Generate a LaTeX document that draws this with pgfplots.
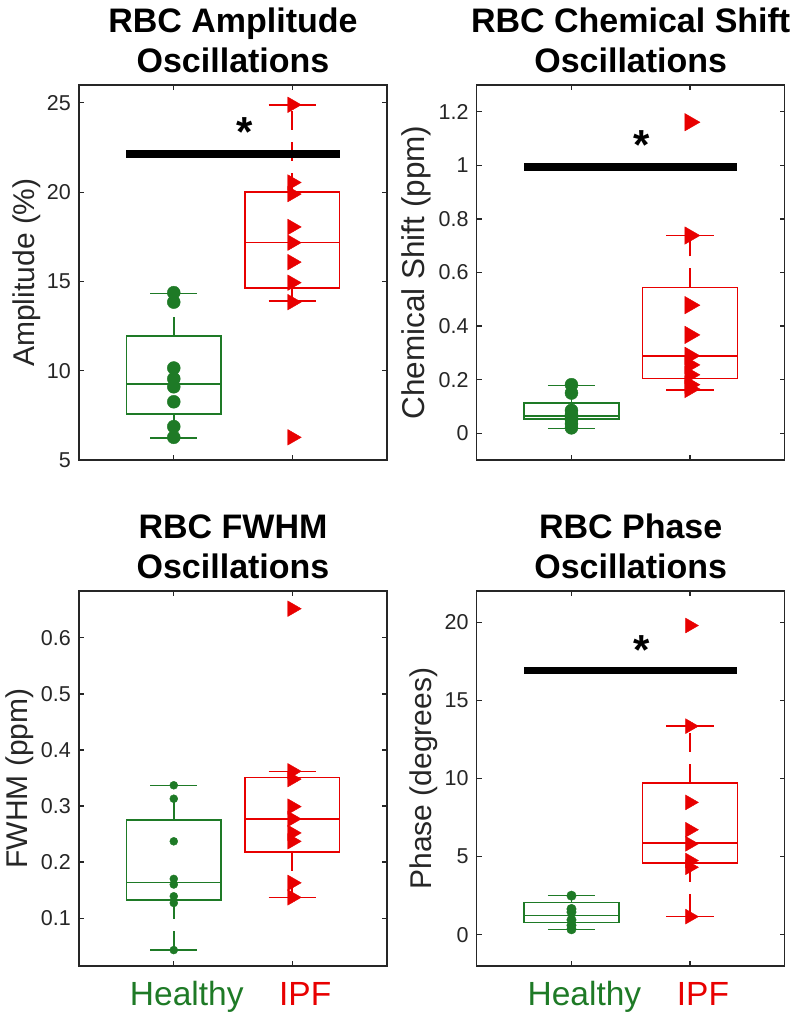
\documentclass[border=0pt]{standalone}
\usepackage{fontspec}
\setmainfont{Liberation Sans}
\usepackage{pgfplots}
\pgfplotsset{compat=1.18}
\definecolor{hg}{RGB}{30,122,38}
\definecolor{ipf}{RGB}{232,0,0}
\definecolor{axc}{RGB}{38,38,38}

% box drawing helpers: {lw}{q1}{median}{q3}{uw}
\newcommand{\bpH}[5]{%
  \addplot[hg, line width=1.5pt, line cap=rect] coordinates {(0.6,#2) (1.4,#2) (1.4,#4) (0.6,#4) (0.6,#2)};
  \addplot[hg, line width=1.5pt] coordinates {(0.6,#3) (1.4,#3)};
  \addplot[hg, line width=1.5pt, dash pattern=on 19pt off 12pt] coordinates {(1,#4) (1,#5)};
  \addplot[hg, line width=1.5pt, dash pattern=on 19pt off 12pt] coordinates {(1,#2) (1,#1)};
  \addplot[hg, line width=1.5pt] coordinates {(0.8,#5) (1.2,#5)};
  \addplot[hg, line width=1.5pt] coordinates {(0.8,#1) (1.2,#1)};
}
\newcommand{\bpI}[5]{%
  \addplot[ipf, line width=1.5pt, line cap=rect] coordinates {(1.6,#2) (2.4,#2) (2.4,#4) (1.6,#4) (1.6,#2)};
  \addplot[ipf, line width=1.5pt] coordinates {(1.6,#3) (2.4,#3)};
  \addplot[ipf, line width=1.5pt, dash pattern=on 19pt off 12pt] coordinates {(2,#4) (2,#5)};
  \addplot[ipf, line width=1.5pt, dash pattern=on 19pt off 12pt] coordinates {(2,#2) (2,#1)};
  \addplot[ipf, line width=1.5pt] coordinates {(1.8,#5) (2.2,#5)};
  \addplot[ipf, line width=1.5pt] coordinates {(1.8,#1) (2.2,#1)};
}

\tikzset{star/.style={anchor=base, inner sep=0pt, font=\bfseries\fontsize{42}{42}\selectfont}}
\pgfplotsset{
  panel/.style={
    scale only axis, width=308pt, height=375pt,
    anchor=south west,
    xmin=0.2, xmax=2.8, xtick={1,2},
    tick align=inside, major tick length=5pt,
    axis line style={axc, line width=1.3pt},
    tick style={axc, line width=1.2pt},
    tick label style={font=\fontsize{21.5}{21.5}\selectfont, text=axc},
    /pgf/number format/assume math mode=true,
    yticklabel style={inner sep=0pt, xshift=-8pt},
    title style={font=\bfseries\fontsize{34}{40}\selectfont, align=center, anchor=south, inner sep=0pt, at={(axis description cs:0.5,1)}, yshift=6pt},
    ylabel style={font=\fontsize{30}{30}\selectfont, text=axc, anchor=base},
  },
  toprow/.style={xticklabels={}},
  botrow/.style={
    xticklabels={\textcolor{hg}{Healthy},\textcolor{ipf}{IPF}},
    xticklabel style={font=\fontsize{33.5}{33.5}\selectfont, anchor=base, yshift=-39pt, xshift=13pt},
  },
  hdots/.style={only marks, mark=*, hg, mark options={draw=hg, fill=hg}},
  itri/.style={only marks, mark=triangle*, ipf, mark options={draw=ipf, fill=ipf, rotate=-90}},
  sig/.style={black, line width=7.3pt},
}

\begin{document}
\begin{tikzpicture}
\useasboundingbox (0pt,0pt) rectangle (800pt,1019pt);

% ---------- Amplitude ----------
\begin{axis}[panel, toprow, at={(79pt,559pt)},
  ymin=5, ymax=26, ytick={5,10,15,20,25},
  title={RBC Amplitude\\Oscillations},
  ylabel={Amplitude (\%)},
  ylabel style={at={(axis description cs:-0.143,0.5)}}]
\bpH{6.22}{7.57}{9.25}{11.93}{14.31}
\bpI{13.90}{14.64}{17.19}{20.02}{24.89}
\addplot[hdots, mark size=6.5pt] coordinates {(1,14.37) (1,13.84) (1,10.15) (1,9.55) (1,9.10) (1,8.26) (1,6.87) (1,6.27)};
\addplot[itri, mark size=9pt] coordinates {(2,24.89) (2,20.54) (2,19.89) (2,18.05) (2,17.17) (2,16.08) (2,14.93) (2,13.84) (2,6.27)};
\addplot[sig] coordinates {(0.6,22.13) (2.4,22.13)};
\node[star] at (axis cs:1.6,22.55) {*};
\end{axis}

% ---------- Chemical shift ----------
\begin{axis}[panel, toprow, at={(476.7pt,559pt)},
  ymin=-0.1, ymax=1.3, ytick={0,0.2,0.4,0.6,0.8,1,1.2},
  title={RBC Chemical Shift\\Oscillations},
  ylabel={Chemical Shift (ppm)},
  ylabel style={font=\fontsize{31.5}{31.5}\selectfont, at={(axis description cs:-0.169,0.5)}}]
\bpH{0.017}{0.053}{0.065}{0.112}{0.179}
\bpI{0.162}{0.204}{0.289}{0.544}{0.738}
\addplot[hdots, mark size=6.5pt] coordinates {(1,0.181) (1,0.150) (1,0.085) (1,0.070) (1,0.060) (1,0.050) (1,0.035) (1,0.020)};
\addplot[itri, mark size=10pt] coordinates {(2,1.161) (2,0.738) (2,0.478) (2,0.367) (2,0.289) (2,0.255) (2,0.218) (2,0.181) (2,0.165)};
\addplot[sig] coordinates {(0.6,0.994) (2.4,0.994)};
\node[star] at (axis cs:1.59,1.02) {*};
\end{axis}

% ---------- FWHM ----------
\begin{axis}[panel, botrow, at={(79pt,53pt)},
  ymin=0.0146, ymax=0.6836, ytick={0.1,0.2,0.3,0.4,0.5,0.6},
  title={RBC FWHM\\Oscillations},
  ylabel={FWHM (ppm)},
  ylabel style={at={(axis description cs:-0.167,0.5)}}]
\bpH{0.043}{0.132}{0.164}{0.275}{0.337}
\bpI{0.137}{0.218}{0.277}{0.351}{0.362}
\addplot[hdots, mark size=4pt] coordinates {(1,0.337) (1,0.313) (1,0.237) (1,0.170) (1,0.160) (1,0.139) (1,0.127) (1,0.043)};
\addplot[itri, mark size=9pt] coordinates {(2,0.652) (2,0.362) (2,0.348) (2,0.299) (2,0.277) (2,0.252) (2,0.237) (2,0.163) (2,0.137)};
\end{axis}

% ---------- Phase ----------
\begin{axis}[panel, botrow, at={(476.7pt,53pt)},
  ymin=-2, ymax=22, ytick={0,5,10,15,20},
  title={RBC Phase\\Oscillations},
  ylabel={Phase (degrees)},
  ylabel style={at={(axis description cs:-0.146,0.5)}}]
\bpH{0.32}{0.79}{1.22}{2.05}{2.50}
\bpI{1.16}{4.60}{5.87}{9.72}{13.35}
\addplot[hdots, mark size=4.75pt] coordinates {(1,2.50) (1,1.65) (1,1.45) (1,0.95) (1,0.60) (1,0.35)};
\addplot[itri, mark size=8.5pt] coordinates {(2,19.79) (2,13.35) (2,8.47) (2,6.72) (2,5.82) (2,4.75) (2,4.32) (2,1.16)};
\addplot[sig] coordinates {(0.6,16.9) (2.4,16.9)};
\node[star] at (axis cs:1.59,17.3) {*};
\end{axis}
\end{tikzpicture}
\end{document}
